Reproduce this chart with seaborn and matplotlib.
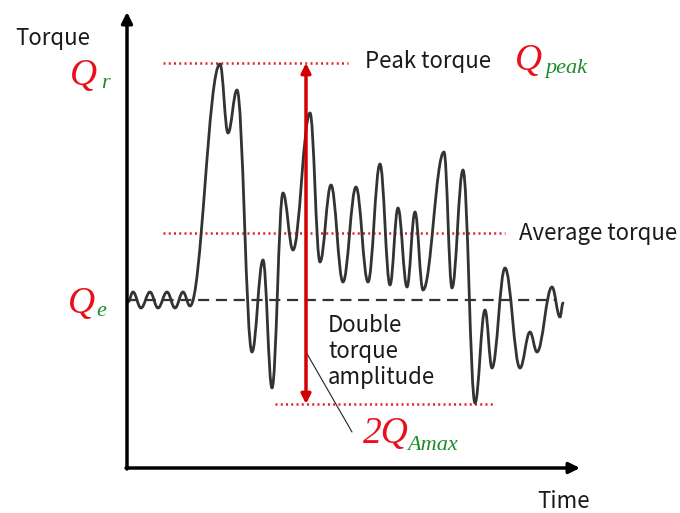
import numpy as np
import pandas as pd
import matplotlib.pyplot as plt
import seaborn as sns
from matplotlib.path import Path
from matplotlib.patches import PathPatch

# turning points of the torque trace (time, torque)
wave_t = [1, 6, 14, 23, 31, 40, 48, 56, 63, 93, 101, 110, 125, 136, 145, 156,
          166, 183, 193, 204, 216, 229, 241, 253, 263, 271, 280, 288, 296, 317,
          325, 336, 348, 358, 365, 378, 393, 403, 410, 425, 433, 436]
wave_q = [166, 176, 160, 176, 160, 176, 160, 176, 162, 404, 335, 378, 116, 208,
          80, 275, 218, 355, 206, 283, 186, 281, 186, 304, 183, 260, 181, 256,
          178, 316, 180, 298, 65, 158, 100, 200, 100, 136, 116, 181, 151, 165]

# reference levels
q_peak = 405
q_avg = 235
q_e = 168
q_low = 64
peak_span = [36, 221]
avg_span = [36, 378]
low_span = [148, 368]
qe_span = [0, 428]
t_arrow = 179

sns.set_theme(style="white")
plt.rcParams['font.family'] = ['Noto Sans CJK JP', 'DejaVu Sans']

fig = plt.figure(figsize=(6.8, 5.13), dpi=100)
ax = fig.add_axes([0, 0, 1, 1])
ax.set_xlim(-127, 553)
ax.set_ylim(-45, 468)
ax.axis('off')

# smooth trace: cubic segments with flat tangents at each turning point
verts = [(wave_t[0], wave_q[0])]
codes = [Path.MOVETO]
for i in range(1, len(wave_t)):
    t0, q0 = wave_t[i - 1], wave_q[i - 1]
    t1, q1 = wave_t[i], wave_q[i]
    d = (t1 - t0) / 2.6
    verts += [(t0 + d, q0), (t1 - d, q1), (t1, q1)]
    codes += [Path.CURVE4] * 3
ax.add_patch(PathPatch(Path(verts, codes), fill=False, ec='#333333', lw=2.0,
                       capstyle='round', joinstyle='round', zorder=3))

# dotted red levels
levels = pd.DataFrame({
    't': peak_span + avg_span + low_span,
    'q': [q_peak] * 2 + [q_avg] * 2 + [q_low] * 2,
    'lvl': ['peak'] * 2 + ['avg'] * 2 + ['low'] * 2,
})
sns.lineplot(data=levels, x='t', y='q', units='lvl', estimator=None, ax=ax,
             color='#e8202a', lw=1.8, linestyle=(0, (0.8, 1.3)), zorder=2)

# Qe dashed line
ax.plot(qe_span, [q_e, q_e], color='#333333', lw=1.6, ls=(0, (5, 3)), zorder=2)

# axes arrows
ax.annotate('', xy=(0, 456), xytext=(0, -1),
            arrowprops=dict(arrowstyle='-|>', color='black', lw=2.5,
                            mutation_scale=16, shrinkA=0, shrinkB=0))
ax.annotate('', xy=(453, 0), xytext=(-1, 0),
            arrowprops=dict(arrowstyle='-|>', color='black', lw=2.5,
                            mutation_scale=16, shrinkA=0, shrinkB=0))

# double amplitude arrow
ax.annotate('', xy=(t_arrow, q_peak), xytext=(t_arrow, q_low),
            arrowprops=dict(arrowstyle='<|-|>', color='#d40000', lw=2.5,
                            mutation_scale=14, shrinkA=0, shrinkB=0))
ax.plot([179, 225], [116, 36], color='#222222', lw=0.8)

# text
txt = dict(color='#1a1a1a', fontsize=16, va='baseline', ha='left')
ax.text(-112, 423, 'Torque', **txt)
ax.text(238, 400, 'Peak torque', **txt)
ax.text(392, 228, 'Average torque', **txt)
ax.text(201, 136, 'Double', **txt)
ax.text(201, 110, 'torque', **txt)
ax.text(201, 84, 'amplitude', **txt)
ax.text(410, -33, 'Time', color='#1a1a1a', fontsize=16, va='center', ha='left')

qf = dict(family='Liberation Serif', style='italic', va='baseline', ha='left')
ax.text(-57, 383, 'Q', color='#e8101a', fontsize=27, **qf)
ax.text(-26, 380, 'r', color='#1e8c2a', fontsize=16, **qf)
ax.text(388, 398, 'Q', color='#e8101a', fontsize=27, **qf)
ax.text(418, 395, 'peak', color='#1e8c2a', fontsize=16, **qf)
ax.text(-59, 155, 'Q', color='#e8101a', fontsize=27, **qf)
ax.text(-31, 152, 'e', color='#1e8c2a', fontsize=16, **qf)
ax.text(236, 25, '2Q', color='#e8101a', fontsize=27, **qf)
ax.text(280, 18, 'Amax', color='#1e8c2a', fontsize=16, **qf)

fig.savefig('out.png', dpi=100)
